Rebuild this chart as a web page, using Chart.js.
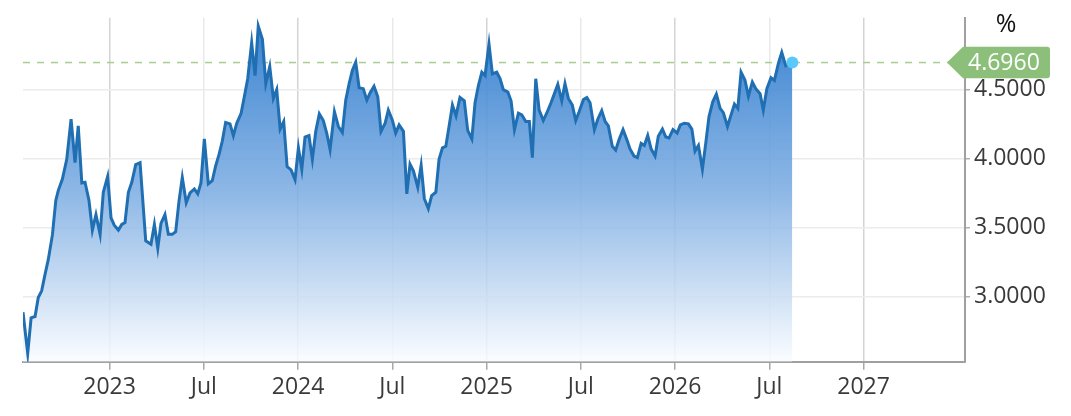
<!DOCTYPE html>
<html>
<head>
<meta charset="utf-8">
<script src="https://cdn.jsdelivr.net/npm/chart.js@4/dist/chart.umd.min.js"></script>
<style>
  html, body { margin: 0; padding: 0; background: #ffffff; }
  #wrap { position: relative; width: 1071px; height: 416px; }
</style>
</head>
<body>
<div id="wrap"><canvas id="c"></canvas></div>
<script>
// ---- Data ----
const dates = [
  2022.541, 2022.566, 2022.584, 2022.605, 2022.622, 2022.640, 2022.658, 2022.675, 2022.697, 2022.715,
  2022.728, 2022.750, 2022.773, 2022.796, 2022.817, 2022.834, 2022.853, 2022.870, 2022.891, 2022.909,
  2022.928, 2022.950, 2022.967, 2022.990, 2023.008, 2023.025, 2023.047, 2023.065, 2023.082, 2023.100,
  2023.118, 2023.139, 2023.162, 2023.192, 2023.220, 2023.238, 2023.256, 2023.273, 2023.294, 2023.312,
  2023.333, 2023.351, 2023.369, 2023.386, 2023.407, 2023.427, 2023.450, 2023.468, 2023.485, 2023.503,
  2023.524, 2023.545, 2023.563, 2023.581, 2023.598, 2023.616, 2023.639, 2023.657, 2023.675, 2023.698,
  2023.715, 2023.733, 2023.754, 2023.772, 2023.789, 2023.811, 2023.829, 2023.850, 2023.869, 2023.887,
  2023.905, 2023.924, 2023.942, 2023.963, 2023.984, 2024.002, 2024.020, 2024.037, 2024.058, 2024.076,
  2024.094, 2024.113, 2024.134, 2024.152, 2024.170, 2024.193, 2024.214, 2024.235, 2024.253, 2024.271,
  2024.288, 2024.306, 2024.324, 2024.346, 2024.365, 2024.382, 2024.403, 2024.423, 2024.440, 2024.462,
  2024.479, 2024.500, 2024.518, 2024.536, 2024.559, 2024.577, 2024.594, 2024.612, 2024.635, 2024.653,
  2024.670, 2024.691, 2024.709, 2024.731, 2024.748, 2024.766, 2024.784, 2024.801, 2024.819, 2024.838,
  2024.859, 2024.882, 2024.900, 2024.922, 2024.939, 2024.957, 2024.975, 2024.992, 2025.013, 2025.031,
  2025.054, 2025.072, 2025.089, 2025.113, 2025.130, 2025.148, 2025.169, 2025.187, 2025.208, 2025.227,
  2025.243, 2025.261, 2025.279, 2025.301, 2025.319, 2025.342, 2025.360, 2025.378, 2025.399, 2025.416,
  2025.434, 2025.455, 2025.473, 2025.491, 2025.514, 2025.532, 2025.549, 2025.572, 2025.590, 2025.611,
  2025.629, 2025.646, 2025.667, 2025.685, 2025.703, 2025.724, 2025.744, 2025.761, 2025.782, 2025.800,
  2025.820, 2025.837, 2025.855, 2025.873, 2025.894, 2025.911, 2025.933, 2025.951, 2025.968, 2025.989,
  2026.011, 2026.028, 2026.049, 2026.071, 2026.089, 2026.106, 2026.124, 2026.145, 2026.163, 2026.180,
  2026.200, 2026.219, 2026.239, 2026.256, 2026.278, 2026.297, 2026.315, 2026.333, 2026.350, 2026.371,
  2026.389, 2026.410, 2026.428, 2026.451, 2026.468, 2026.487, 2026.509, 2026.527, 2026.548, 2026.566,
  2026.587, 2026.622
];
const yields = [
  2.888, 2.590, 2.848, 2.857, 2.995, 3.043, 3.162, 3.269, 3.448, 3.698,
  3.769, 3.852, 3.995, 4.286, 3.971, 4.238, 3.824, 3.829, 3.698, 3.483,
  3.595, 3.452, 3.757, 3.871, 3.571, 3.519, 3.483, 3.524, 3.538, 3.757,
  3.829, 3.957, 3.971, 3.405, 3.381, 3.524, 3.352, 3.531, 3.595, 3.452,
  3.452, 3.471, 3.698, 3.864, 3.681, 3.752, 3.781, 3.745, 3.824, 4.143,
  3.817, 3.840, 3.948, 4.031, 4.126, 4.262, 4.252, 4.167, 4.257, 4.329,
  4.448, 4.579, 4.840, 4.602, 4.960, 4.864, 4.543, 4.667, 4.436, 4.500,
  4.214, 4.269, 3.943, 3.919, 3.848, 4.079, 3.924, 4.157, 4.167, 3.995,
  4.198, 4.324, 4.276, 4.186, 4.067, 4.340, 4.233, 4.190, 4.424, 4.543,
  4.638, 4.698, 4.514, 4.507, 4.424, 4.476, 4.524, 4.448, 4.198, 4.257,
  4.352, 4.281, 4.186, 4.245, 4.198, 3.745, 3.960, 3.912, 3.793, 3.952,
  3.710, 3.638, 3.733, 3.757, 3.995, 4.079, 4.090, 4.233, 4.388, 4.310,
  4.443, 4.419, 4.205, 4.143, 4.405, 4.531, 4.626, 4.602, 4.829, 4.614,
  4.626, 4.579, 4.500, 4.483, 4.419, 4.210, 4.329, 4.317, 4.269, 4.269,
  4.007, 4.579, 4.352, 4.276, 4.329, 4.405, 4.471, 4.538, 4.419, 4.543,
  4.436, 4.388, 4.276, 4.340, 4.429, 4.443, 4.405, 4.210, 4.286, 4.348,
  4.269, 4.238, 4.090, 4.062, 4.138, 4.210, 4.138, 4.071, 4.019, 4.007,
  4.110, 4.095, 4.167, 4.071, 4.019, 4.162, 4.214, 4.157, 4.150, 4.210,
  4.186, 4.245, 4.257, 4.252, 4.214, 4.055, 4.095, 3.924, 4.114, 4.305,
  4.412, 4.467, 4.364, 4.333, 4.233, 4.317, 4.395, 4.364, 4.626, 4.567,
  4.452, 4.555, 4.507, 4.471, 4.352, 4.507, 4.586, 4.567, 4.690, 4.769,
  4.674, 4.696
];
const xTickValues = [2023, 2023.5, 2024, 2024.5, 2025, 2025.5, 2026, 2026.5, 2027];
const xTickLabels = ['2023', 'Jul', '2024', 'Jul', '2025', 'Jul', '2026', 'Jul', '2027'];
const yTickValues = [3.0, 3.5, 4.0, 4.5];
const unitLabel = '%';

// ---- Chart ----
const FONT = "'Open Sans', 'Noto Sans', sans-serif";
const points = dates.map((d, i) => ({ x: d, y: yields[i] }));
const lastIdx = points.length - 1;
const lastValue = yields[lastIdx];

function fillGradient(ctx) {
  const chart = ctx.chart;
  const area = chart.chartArea;
  if (!area) return 'rgba(60,130,210,0.5)';
  const g = chart.ctx.createLinearGradient(0, area.top, 0, area.bottom);
  g.addColorStop(0, 'rgba(40,120,205,0.93)');
  g.addColorStop(0.5, 'rgba(120,170,225,0.85)');
  g.addColorStop(1, 'rgba(250,252,255,0.85)');
  return g;
}

const refLinePlugin = {
  id: 'refLine',
  beforeDatasetsDraw(chart) {
    const { ctx, chartArea, scales } = chart;
    const y = scales.y.getPixelForValue(lastValue);
    ctx.save();
    ctx.strokeStyle = '#a9cc95';
    ctx.lineWidth = 1.5;
    ctx.setLineDash([7, 7]);
    ctx.beginPath();
    ctx.moveTo(chartArea.left, y);
    ctx.lineTo(chartArea.right - 17, y);
    ctx.stroke();
    ctx.restore();
  },
  afterDraw(chart) {
    const { ctx, chartArea, scales } = chart;
    const y = scales.y.getPixelForValue(lastValue);
    const x0 = chartArea.right - 18;   // tip of the tag
    const bx = chartArea.right - 2;    // body start
    const bw = 87, hh = 15.8, r = 3;
    ctx.save();
    ctx.fillStyle = '#8cc07a';
    ctx.beginPath();
    ctx.moveTo(x0, y);
    ctx.lineTo(bx, y - hh);
    ctx.lineTo(bx + bw - r, y - hh);
    ctx.quadraticCurveTo(bx + bw, y - hh, bx + bw, y - hh + r);
    ctx.lineTo(bx + bw, y + hh - r);
    ctx.quadraticCurveTo(bx + bw, y + hh, bx + bw - r, y + hh);
    ctx.lineTo(bx, y + hh);
    ctx.closePath();
    ctx.fill();
    ctx.fillStyle = '#ffffff';
    ctx.font = '23px ' + FONT;
    ctx.textAlign = 'left';
    ctx.textBaseline = 'middle';
    ctx.fillText(lastValue.toFixed(4), bx + 5, y + 1);
    // unit label
    ctx.fillStyle = '#111111';
    ctx.font = '25px ' + FONT;
    ctx.textAlign = 'center';
    ctx.fillText(unitLabel, chartArea.right + 41, 25);
    ctx.restore();
  }
};

new Chart(document.getElementById('c'), {
  type: 'line',
  data: {
    datasets: [{
      data: points,
      borderColor: '#1f6fb2',
      borderWidth: 3,
      fill: 'start',
      backgroundColor: fillGradient,
      tension: 0,
      pointRadius: (c) => (c.dataIndex === lastIdx ? 6 : 0),
      pointBackgroundColor: '#5ac8fa',
      pointBorderColor: '#5ac8fa',
      pointBorderWidth: 0,
      pointHoverRadius: 0
    }]
  },
  options: {
    responsive: true,
    maintainAspectRatio: false,
    animation: false,
    events: [],
    layout: { padding: { left: 23, top: 13.3, right: 0, bottom: 0 } },
    plugins: { legend: { display: false }, tooltip: { enabled: false } },
    scales: {
      x: {
        type: 'linear',
        min: dates[0],
        max: 2027.538,
        afterBuildTicks: (s) => { s.ticks = xTickValues.map(v => ({ value: v })); },
        afterFit: (s) => { s.height = 54.3; },
        ticks: {
          autoSkip: false,
          maxRotation: 0,
          padding: 4,
          color: '#3a3a3a',
          font: { family: FONT, size: 23 },
          callback: (v, i) => xTickLabels[i]
        },
        grid: {
          color: (c) => (c.tick && Number.isInteger(c.tick.value) ? '#d4d4d4' : '#e9e9e9'),
          lineWidth: 1.5,
          tickColor: '#a8a8a8',
          tickLength: 8,
          drawTicks: true
        },
        border: { color: '#a0a0a0', width: 2 }
      },
      y: {
        type: 'linear',
        position: 'right',
        min: 2.53,
        max: 5.02,
        afterBuildTicks: (s) => { s.ticks = yTickValues.map(v => ({ value: v })); },
        afterFit: (s) => { s.width = 106; },
        ticks: {
          padding: 4,
          color: '#3a3a3a',
          font: { family: FONT, size: 23 },
          callback: (v) => Number(v).toFixed(4)
        },
        grid: {
          color: '#ececec',
          lineWidth: 1.5,
          tickColor: '#b0b0b0',
          tickLength: 5
        },
        border: { color: '#a0a0a0', width: 2 }
      }
    }
  },
  plugins: [refLinePlugin]
});
</script>
</body>
</html>
